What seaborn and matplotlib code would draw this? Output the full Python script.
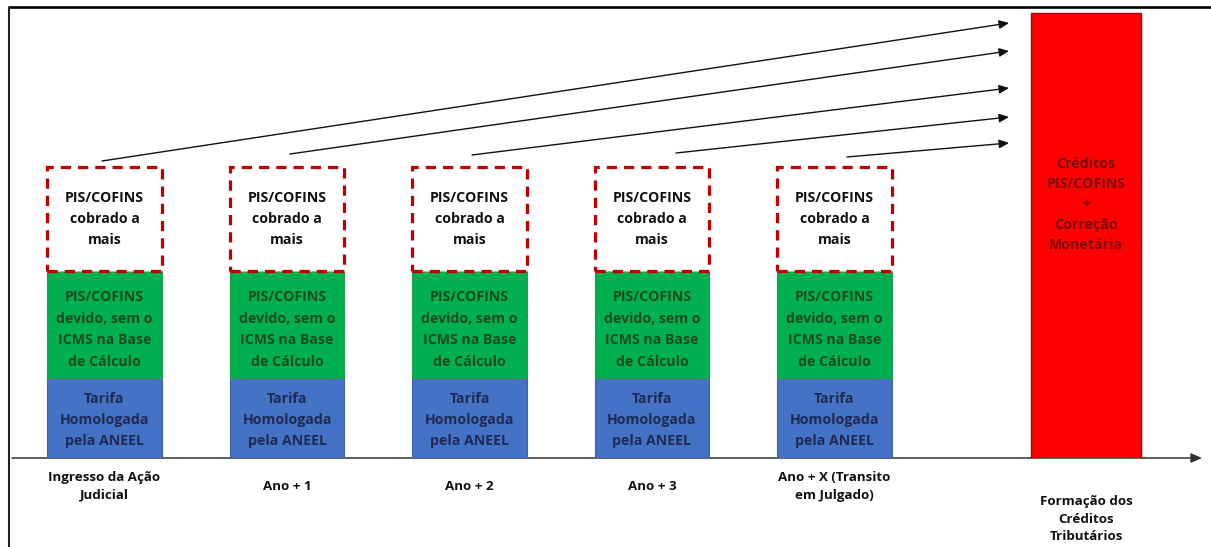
import matplotlib
matplotlib.use("Agg")
import matplotlib.pyplot as plt
import pandas as pd
import seaborn as sns

# ---- data -------------------------------------------------------------
etapas = [
    "Ingresso da Ação\nJudicial",
    "Ano + 1",
    "Ano + 2",
    "Ano + 3",
    "Ano + X (Transito\nem Julgado)",
]
tarifa = [0.80, 0.80, 0.80, 0.80, 0.80]
pis_devido = [1.07, 1.07, 1.07, 1.07, 1.07]
pis_a_mais = [1.04, 1.04, 1.04, 1.04, 1.04]

etapa_final = ["Formação dos\nCréditos\nTributários"]
creditos = [4.45]

texto_tarifa = "Tarifa\nHomologada\npela ANEEL"
texto_devido = "PIS/COFINS\ndevido, sem o\nICMS na Base\nde Cálculo"
texto_a_mais = "PIS/COFINS\ncobrado a\nmais"
texto_creditos = "Créditos\nPIS/COFINS\n+\nCorreção\nMonetária"

# ---- style ------------------------------------------------------------
sns.set_theme(style="white")
plt.rcParams["font.family"] = ["Open Sans", "DejaVu Sans"]
plt.rcParams["font.weight"] = "bold"

AZUL, AZUL_TXT = "#4472C4", "#1F2B55"
VERDE, VERDE_TXT = "#00B050", "#1C4A22"
VERMELHO, VERMELHO_TXT = "#FF0000", "#7A0A0A"
TRACEJADO = "#C00000"

W, H = 1211, 547
fig = plt.figure(figsize=(W / 100, H / 100), dpi=100, facecolor="white")

# background layer in pixel units: frame, time axis, arrows
bg = fig.add_axes([0, 0, 1, 1])
bg.set_xlim(0, W)
bg.set_ylim(H, 0)
bg.axis("off")
bg.plot([8, W], [7, 7], color="black", lw=1.9, solid_capstyle="butt")
bg.plot([9, 9], [7, H], color="#222222", lw=1.5, solid_capstyle="butt")
bg.annotate("", xy=(1202, 458), xytext=(12, 458),
            arrowprops=dict(arrowstyle="-|>,head_length=0.5,head_width=0.22",
                            color="#333333", lw=1.1, mutation_scale=13,
                            shrinkA=0, shrinkB=0))

setas = [((102, 161), (1009, 23)),
         ((290, 154), (1009, 51)),
         ((472, 155), (1009, 88)),
         ((676, 153), (1009, 117)),
         ((847, 157), (1009, 143))]
for (x0, y0), (x1, y1) in setas:
    bg.annotate("", xy=(x1, y1), xytext=(x0, y0),
                arrowprops=dict(arrowstyle="-|>,head_length=0.45,head_width=0.2",
                                color="#111111", lw=1.0, mutation_scale=13,
                                shrinkA=0, shrinkB=0))

# ---- stacked bars ------------------------------------------------------
def px_axes(x0, x1, y_top=7, y_base=458):
    return fig.add_axes([x0 / W, (H - y_base) / H, (x1 - x0) / W, (y_base - y_top) / H])

ax = px_axes(12, 960)
ax.patch.set_alpha(0)

df = pd.DataFrame({"etapa": etapas, "tarifa": tarifa,
                   "devido": pis_devido, "a_mais": pis_a_mais})
base_devido = df["tarifa"].to_numpy()
base_a_mais = (df["tarifa"] + df["devido"]).to_numpy()

comum = dict(data=df, x="etapa", order=etapas, width=0.63, saturation=1,
             errorbar=None, ax=ax)
sns.barplot(y="tarifa", color=AZUL, edgecolor="#3B64AE", linewidth=0.8, **comum)
sns.barplot(y="devido", bottom=base_devido, color=VERDE, edgecolor="#1E9E4E",
            linewidth=0.8, **comum)
sns.barplot(y="a_mais", bottom=base_a_mais, color="white", edgecolor=TRACEJADO,
            linewidth=2.3, linestyle=(0, (3.2, 2.2)), **comum)

ax.set_xlim((12 - 104.5) / 182.5, (960 - 104.5) / 182.5)
ax.set_ylim(0, 4.51)

fs = 10.2
ls = 1.68
for i in range(len(etapas)):
    ax.text(i, tarifa[i] / 2 - 0.02, texto_tarifa, ha="center", va="center",
            color=AZUL_TXT, fontsize=fs, linespacing=ls)
    ax.text(i, base_devido[i] + pis_devido[i] / 2 - 0.05, texto_devido,
            ha="center", va="center", color=VERDE_TXT, fontsize=fs, linespacing=ls)
    ax.text(i, base_a_mais[i] + pis_a_mais[i] / 2, texto_a_mais,
            ha="center", va="center", color="#111111", fontsize=fs, linespacing=ls)

# ---- credit bar ---------------------------------------------------------
axr = px_axes(960, W)
axr.patch.set_alpha(0)
sns.barplot(x=etapa_final, y=creditos, color=VERMELHO, saturation=1, width=0.603,
            edgecolor="#B00000", linewidth=1.0, errorbar=None, ax=axr)
axr.set_xlim((960 - 1086) / 182.5, (W - 1086) / 182.5)
axr.set_ylim(0, 4.51)
axr.text(0, creditos[0] * 0.57, texto_creditos, ha="center", va="center",
         color=VERMELHO_TXT, fontsize=fs, linespacing=1.56)

# ---- category labels under the time axis -------------------------------
for a, pad in ((ax, 20.5), (axr, 44.0)):
    a.set_xlabel("")
    a.set_ylabel("")
    a.set_yticks([])
    for s in a.spines.values():
        s.set_visible(False)
    a.tick_params(axis="x", length=0, pad=pad, labelsize=9.6, labelcolor="#111111")
    for lab in a.get_xticklabels():
        lab.set_va("center")
        lab.set_linespacing(1.45)
        lab.set_fontweight("bold")

fig.savefig("out.png", dpi=100, facecolor="white")
